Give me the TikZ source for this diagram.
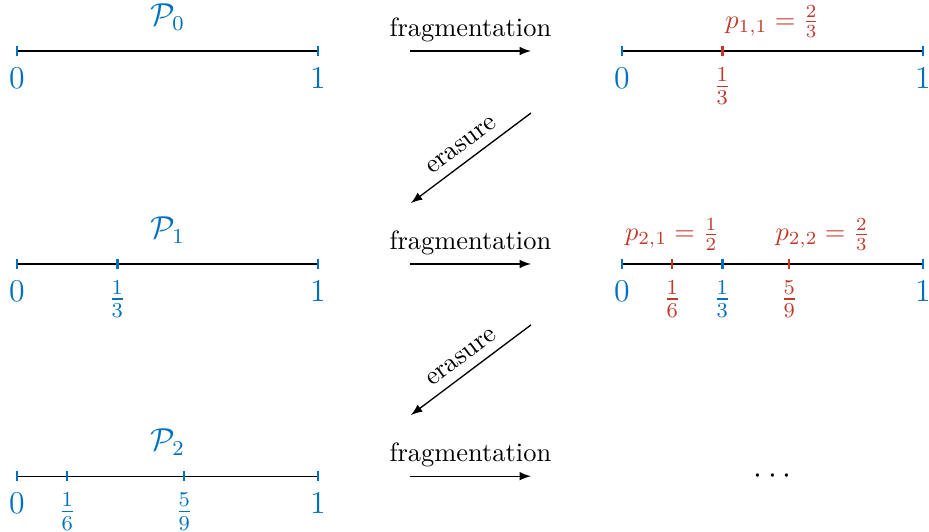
\documentclass[tikz,border=0pt]{standalone}
\usetikzlibrary{arrows}
\definecolor{cblue}{RGB}{0,114,189}
\definecolor{cred}{RGB}{192,57,43}
\tikzset{
  seg/.style={line width=0.5pt, black},
  btick/.style={cblue, line width=0.9pt},
  rtick/.style={cred, line width=0.9pt},
  blab/.style={below=0.1cm, text=cblue, font=\large, inner sep=0.333em},
  rlab/.style={below=0.1cm, text=cred, font=\large, inner sep=0.333em},
  plab/.style={above=0.06cm, text=cred},
  Plab/.style={above=0.15cm, text=cblue, font=\large},
  arr/.style={-latex, line width=0.5pt},
}
\newcommand{\tk}[3]{\draw[#1] ($(#2)+(0,#3)$) -- ($(#2)-(0,#3)$);}
\usetikzlibrary{calc}
\begin{document}
\begin{tikzpicture}
\useasboundingbox (-0.226,0.678) rectangle (12.12,-6.379);
% ---------- row 1 ----------
\coordinate (L0a) at (0,0);      \coordinate (L0b) at (4,0);
\coordinate (R0a) at (8.04,0);   \coordinate (R0b) at (12.04,0);
\coordinate (R0t) at (9.373,0);
\draw[seg] (L0a) -- (L0b);
\draw[seg] (R0a) -- (R0b);
\tk{btick}{L0a}{0.07} \tk{btick}{L0b}{0.07}
\tk{btick}{R0a}{0.07} \tk{btick}{R0b}{0.07} \tk{rtick}{R0t}{0.07}
\node[blab] (l0a) at (L0a) {$0$};
\node[blab] (l0b) at (L0b) {$1$};
\node[Plab] (P0) at (2,0) {$\mathcal{P}_0$};
\node[blab] (r0a) at (R0a) {$0$};
\node[blab] (r0b) at (R0b) {$1$};
\node[rlab] (r0t) at (R0t) {$\frac{1}{3}$};
\node[plab] (p11) at (10.04,0) {$p_{1,1}=\frac{2}{3}$};
% ---------- row 2 ----------
\coordinate (L1a) at (0,-2.83);      \coordinate (L1b) at (4,-2.83);
\coordinate (L1t) at (1.333,-2.83);
\coordinate (R1a) at (8.04,-2.83);   \coordinate (R1b) at (12.04,-2.83);
\coordinate (R1t) at (9.373,-2.83);
\coordinate (R1u) at (8.707,-2.83);  \coordinate (R1v) at (10.262,-2.83);
\draw[seg] (L1a) -- (L1b);
\draw[seg] (R1a) -- (R1b);
\tk{btick}{L1a}{0.07} \tk{btick}{L1b}{0.07} \tk{btick}{L1t}{0.07}
\tk{btick}{R1a}{0.07} \tk{btick}{R1b}{0.07} \tk{btick}{R1t}{0.07}
\tk{rtick}{R1u}{0.07} \tk{rtick}{R1v}{0.07}
\node[blab] (l1a) at (L1a) {$0$};
\node[blab] (l1b) at (L1b) {$1$};
\node[blab] (l1t) at (L1t) {$\frac{1}{3}$};
\node[Plab] (P1) at (2,-2.83) {$\mathcal{P}_1$};
\node[blab] (r1a) at (R1a) {$0$};
\node[blab] (r1b) at (R1b) {$1$};
\node[blab] (r1t) at (R1t) {$\frac{1}{3}$};
\node[rlab] (r1u) at (R1u) {$\frac{1}{6}$};
\node[rlab] (r1v) at (R1v) {$\frac{5}{9}$};
\node[plab] (p21) at (8.707,-2.83) {$p_{2,1}=\frac{1}{2}$};
\node[plab] (p22) at (10.707,-2.83) {$p_{2,2}=\frac{2}{3}$};
% ---------- row 3 ----------
\coordinate (L2a) at (0,-5.65);      \coordinate (L2b) at (4,-5.65);
\coordinate (L2t) at (0.667,-5.65);  \coordinate (L2u) at (2.222,-5.65);
\draw[seg] (L2a) -- (L2b);
\tk{btick}{L2a}{0.07} \tk{btick}{L2b}{0.07} \tk{btick}{L2t}{0.07} \tk{btick}{L2u}{0.07}
\node[blab] (l2a) at (L2a) {$0$};
\node[blab] (l2b) at (L2b) {$1$};
\node[blab] (l2t) at (L2t) {$\frac{1}{6}$};
\node[blab] (l2u) at (L2u) {$\frac{5}{9}$};
\node[Plab] (P2) at (2,-5.65) {$\mathcal{P}_2$};
\node (dots) at (10.04,-5.65) {\large$\cdots$};
% ---------- arrows ----------
\coordinate (F0a) at (5.22,0);     \coordinate (F0b) at (6.83,0);
\coordinate (F1a) at (5.22,-2.83); \coordinate (F1b) at (6.83,-2.83);
\coordinate (F2a) at (5.22,-5.65); \coordinate (F2b) at (6.83,-5.65);
\draw[arr] (F0a) -- node[above] {fragmentation} (F0b);
\draw[arr] (F1a) -- node[above] {fragmentation} (F1b);
\draw[arr] (F2a) -- node[above] {fragmentation} (F2b);
\coordinate (E0a) at (6.83,-0.824);  \coordinate (E0b) at (5.236,-2.02);
\coordinate (E1a) at (6.83,-3.64);   \coordinate (E1b) at (5.236,-4.837);
\draw[arr, latex-] (E0b) -- node[above, sloped] {erasure} (E0a);
\draw[arr, latex-] (E1b) -- node[above, sloped] {erasure} (E1a);
\end{tikzpicture}
\end{document}
